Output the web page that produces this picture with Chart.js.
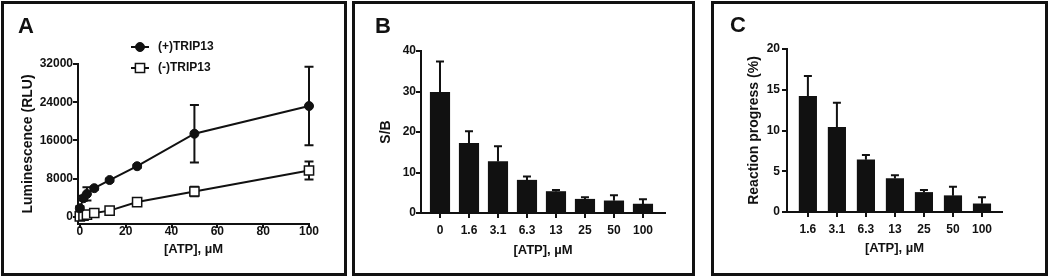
<!DOCTYPE html>
<html>
<head>
<meta charset="utf-8">
<script src="https://cdn.jsdelivr.net/npm/chart.js"></script>
<style>
  body { margin: 0; background: #fff; width: 1050px; height: 278px; overflow: hidden; position: relative; }
  .panel { position: absolute; top: 1px; height: 275px; box-sizing: border-box; border: 3px solid #111; }
  .panel canvas { position: absolute; left: 0; top: 0; }
  .letter { position: absolute; font: bold 22px "Liberation Sans", Arial, sans-serif; line-height: 22px; color: #111; }
</style>
</head>
<body>
<div class="panel" style="left:1px;width:346px"><canvas id="chartA" width="340" height="269"></canvas></div>
<div class="panel" style="left:352px;width:343px"><canvas id="chartB" width="337" height="269"></canvas></div>
<div class="panel" style="left:711px;width:337px"><canvas id="chartC" width="331" height="269"></canvas></div>
<div class="letter" style="left:18px;top:15px">A</div>
<div class="letter" style="left:375px;top:15px">B</div>
<div class="letter" style="left:730px;top:14px">C</div>
<script>
// panel A: luminescence vs ATP
const atpConc = [0, 1.6, 3.1, 6.3, 13, 25, 50, 100];
const plusTRIP13 = [1800, 3900, 4800, 6000, 7700, 10600, 17400, 23200];
const plusSD = [400, 500, 1400, 300, 300, 300, 6000, 8200];
const minusTRIP13 = [100, 250, 450, 800, 1300, 3100, 5300, 9700];
const minusSD = [100, 100, 100, 150, 200, 300, 1000, 1900];
const xTicksA = [0, 20, 40, 60, 80, 100];
const yTicksA = [0, 8000, 16000, 24000, 32000];

// panel B: S/B
const atpB = ['0', '1.6', '3.1', '6.3', '13', '25', '50', '100'];
const sbMean = [29.8, 17.2, 12.7, 8.1, 5.3, 3.4, 3.0, 2.2];
const sbSD = [7.6, 3.0, 3.8, 0.9, 0.4, 0.5, 1.4, 1.2];
const yTicksB = [0, 10, 20, 30, 40];

// panel C: reaction progress
const atpC = ['1.6', '3.1', '6.3', '13', '25', '50', '100'];
const progMean = [14.2, 10.4, 6.4, 4.1, 2.4, 2.0, 1.0];
const progSD = [2.5, 3.0, 0.6, 0.4, 0.3, 1.1, 0.8];
const yTicksC = [0, 5, 10, 15, 20];

const ink = '#111';
const fam = '"Liberation Sans", Arial, sans-serif';
Chart.defaults.font.family = fam;
Chart.defaults.color = ink;
Chart.defaults.animation = false;

const errorBars = {
  id: 'errorBars',
  draw(chart, opts) {
    const ctx = chart.ctx, ys = chart.scales.y;
    chart.data.datasets.forEach((ds, di) => {
      if (!ds.errors) return;
      const meta = chart.getDatasetMeta(di);
      ctx.save();
      ctx.strokeStyle = ink;
      ctx.lineWidth = 2;
      meta.data.forEach((el, i) => {
        const v = ds.data[i].y, e = ds.errors[i];
        const top = ys.getPixelForValue(v + e);
        const bot = ys.getPixelForValue(opts.upperOnly ? v : v - e);
        const c = opts.cap;
        ctx.beginPath();
        ctx.moveTo(el.x, top); ctx.lineTo(el.x, bot);
        ctx.moveTo(el.x - c, top); ctx.lineTo(el.x + c, top);
        if (!opts.upperOnly) { ctx.moveTo(el.x - c, bot); ctx.lineTo(el.x + c, bot); }
        ctx.stroke();
      });
      ctx.restore();
    });
  },
  beforeDatasetsDraw(chart, args, opts) { if (opts.behind) this.draw(chart, opts); },
  afterDatasetsDraw(chart, args, opts) { if (!opts.behind) this.draw(chart, opts); }
};

// little legend for panel A, drawn from the dataset styles
const boxLegend = {
  id: 'boxLegend',
  afterDraw(chart, args, opts) {
    const ctx = chart.ctx;
    chart.data.datasets.forEach((ds, i) => {
      const y = opts.y + i * opts.gap, x = opts.x;
      ctx.save();
      ctx.strokeStyle = ds.borderColor;
      ctx.lineWidth = 2;
      ctx.beginPath(); ctx.moveTo(x - 9, y); ctx.lineTo(x + 9, y); ctx.stroke();
      ctx.fillStyle = ds.pointBackgroundColor;
      ctx.lineWidth = ds.pointBorderWidth;
      ctx.beginPath();
      if (ds.pointStyle === 'rect') {
        const s = ds.pointRadius * Math.SQRT1_2;
        ctx.rect(x - s, y - s, 2 * s, 2 * s);
      } else {
        ctx.arc(x, y, ds.pointRadius, 0, Math.PI * 2);
      }
      ctx.fill(); ctx.stroke();
      ctx.fillStyle = ink;
      ctx.font = 'bold 12px ' + fam;
      ctx.textBaseline = 'middle';
      ctx.fillText(ds.label, x + 18, y);
      ctx.restore();
    });
  }
};

function axisStyle(tickLen, pad, fontSize) {
  return {
    border: { display: true, color: ink, width: 2 },
    grid: { display: true, drawOnChartArea: false, drawTicks: true, tickLength: tickLen, tickColor: ink, tickWidth: 2, lineWidth: 2, offset: false },
    ticks: { font: { size: fontSize, weight: 'bold' }, color: ink, padding: pad, maxRotation: 0, autoSkip: false }
  };
}
function axisTitle(text, size) {
  return { display: true, text: text, color: ink, font: { size: size, weight: 'bold' }, padding: 0 };
}
function fixedTicks(values) {
  return s => { s.ticks = values.map(v => ({ value: v })); };
}

// ---- A ----
const axA = axisStyle(4, -4, 12);
const ayA = axisStyle(5, 0, 12);
ayA.ticks.callback = v => String(v);
new Chart(document.getElementById('chartA'), {
  type: 'line',
  data: {
    datasets: [
      {
        label: '(+)TRIP13',
        data: atpConc.map((c, i) => ({ x: c, y: plusTRIP13[i] })),
        errors: plusSD,
        borderColor: ink, borderWidth: 2,
        pointStyle: 'circle', pointRadius: 4.5, pointBorderWidth: 1,
        pointBackgroundColor: ink, pointBorderColor: ink,
        clip: false
      },
      {
        label: '(-)TRIP13',
        data: atpConc.map((c, i) => ({ x: c, y: minusTRIP13[i] })),
        errors: minusSD,
        borderColor: ink, borderWidth: 2,
        pointStyle: 'rect', pointRadius: 6.5, pointBorderWidth: 1.5,
        pointBackgroundColor: '#fff', pointBorderColor: ink,
        clip: false
      }
    ]
  },
  options: {
    responsive: false,
    layout: { padding: { left: 16, top: 60, right: 35, bottom: 16 } },
    plugins: {
      legend: { display: false }, tooltip: { enabled: false },
      errorBars: { cap: 4.5, behind: true },
      boxLegend: { x: 136, y: 43, gap: 21 }
    },
    scales: {
      x: Object.assign(axA, {
        type: 'linear', min: -0.8, max: 100,
        afterBuildTicks: fixedTicks(xTicksA),
        afterFit: s => { s.height = 33; },
        title: axisTitle('[ATP], µM', 13)
      }),
      y: Object.assign(ayA, {
        type: 'linear', min: -1500, max: 32000,
        afterBuildTicks: fixedTicks(yTicksA),
        afterFit: s => { s.width = 58; },
        title: axisTitle('Luminescence (RLU)', 14)
      })
    }
  },
  plugins: [errorBars, boxLegend]
});

// ---- bar panels ----
function barChart(id, cats, means, sds, yMax, yTicks, yTitle, geo) {
  const ax = axisStyle(5, 5, 12);
  ax.ticks.callback = v => cats[v];
  const ay = axisStyle(5, geo.yPad, 12);
  return new Chart(document.getElementById(id), {
    type: 'bar',
    data: {
      datasets: [{
        data: cats.map((c, i) => ({ x: i, y: means[i] })),
        errors: sds,
        backgroundColor: ink, borderWidth: 0,
        barThickness: geo.bar
      }]
    },
    options: {
      responsive: false,
      layout: { padding: geo.pad },
      plugins: {
        legend: { display: false }, tooltip: { enabled: false },
        errorBars: { cap: 4, upperOnly: true }
      },
      scales: {
        x: Object.assign(ax, {
          type: 'linear', offset: false, min: geo.xMin, max: geo.xMax,
          afterBuildTicks: fixedTicks(cats.map((c, i) => i)),
          afterFit: s => { s.height = geo.xH; },
          title: axisTitle('[ATP], µM', 13)
        }),
        y: Object.assign(ay, {
          type: 'linear', min: 0, max: yMax,
          afterBuildTicks: fixedTicks(yTicks),
          afterFit: s => { s.width = geo.yW; },
          title: axisTitle(yTitle, 14)
        })
      }
    },
    plugins: [errorBars]
  });
}

barChart('chartB', atpB, sbMean, sbSD, 40, yTicksB, 'S/B',
  { bar: 19.5, pad: { left: 23, top: 47, right: 27, bottom: 15 }, xMin: -0.655, xMax: 7.76, xH: 45, yW: 43, yPad: 0 });

barChart('chartC', atpC, progMean, progSD, 20, yTicksC, 'Reaction progress (%)',
  { bar: 17.5, pad: { left: 32, top: 45, right: 43, bottom: 17 }, xMin: -0.72, xMax: 6.69, xH: 44, yW: 41, yPad: 2 });
</script>
</body>
</html>
